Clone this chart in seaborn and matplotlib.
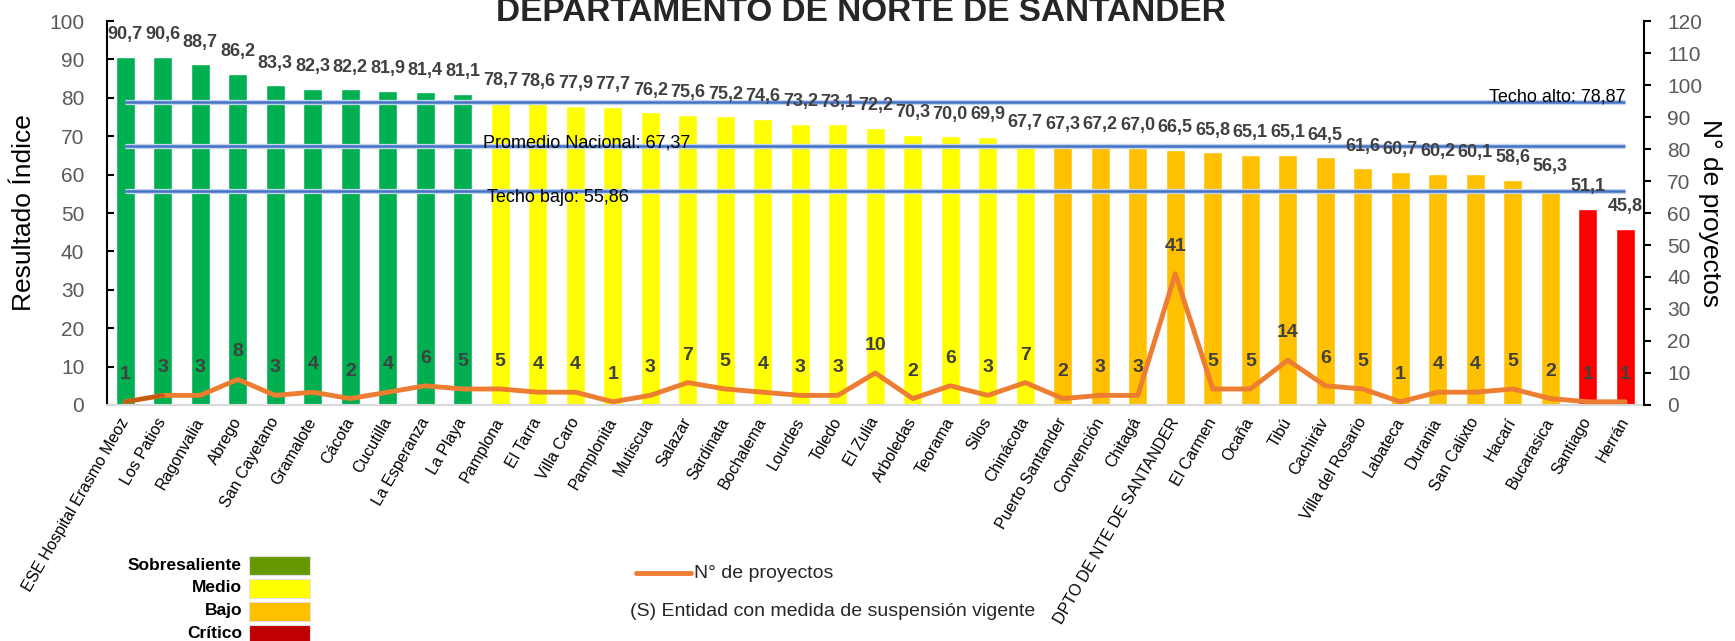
import matplotlib
matplotlib.use('Agg')
import matplotlib.pyplot as plt
import matplotlib.patheffects as pe
from matplotlib.patches import Rectangle
from matplotlib.lines import Line2D
import numpy as np
import seaborn as sns

municipios = ['ESE Hospital Erasmo Meoz', 'Los Patios', 'Ragonvalia', 'Abrego', 'San Cayetano',
              'Gramalote', 'Cácota', 'Cucutilla', 'La Esperanza', 'La Playa', 'Pamplona',
              'El Tarra', 'Villa Caro', 'Pamplonita', 'Mutiscua', 'Salazar', 'Sardinata',
              'Bochalema', 'Lourdes', 'Toledo', 'El Zulia', 'Arboledas', 'Teorama', 'Silos',
              'Chinácota', 'Puerto Santander', 'Convención', 'Chitagá',
              'DPTO DE NTE DE SANTANDER', 'El Carmen', 'Ocaña', 'Tibú', 'Cachiráv',
              'Villa del Rosario', 'Labateca', 'Durania', 'San Calixto', 'Hacarí',
              'Bucarasica', 'Santiago', 'Herrán']
indice = [90.7, 90.6, 88.7, 86.2, 83.3, 82.3, 82.2, 81.9, 81.4, 81.1, 78.7, 78.6, 77.9, 77.7,
          76.2, 75.6, 75.2, 74.6, 73.2, 73.1, 72.2, 70.3, 70.0, 69.9, 67.7, 67.3, 67.2, 67.0,
          66.5, 65.8, 65.1, 65.1, 64.5, 61.6, 60.7, 60.2, 60.1, 58.6, 56.3, 51.1, 45.8]
proyectos = [1, 3, 3, 8, 3, 4, 2, 4, 6, 5, 5, 4, 4, 1, 3, 7, 5, 4, 3, 3, 10, 2, 6, 3, 7, 2, 3,
             3, 41, 5, 5, 14, 6, 5, 1, 4, 4, 5, 2, 1, 1]

techo_alto = 78.87
promedio = 67.37
techo_bajo = 55.86

niveles = ['Sobresaliente', 'Medio', 'Bajo', 'Crítico']
color_barra = {'Sobresaliente': '#00B050', 'Medio': '#FFFF00', 'Bajo': '#FFC000', 'Crítico': '#FF0000'}
color_leyenda = {'Sobresaliente': '#669900', 'Medio': '#FFFF00', 'Bajo': '#FFC000', 'Crítico': '#C00000'}


def nivel(v):
    if v > techo_alto:
        return 'Sobresaliente'
    if v > promedio:
        return 'Medio'
    if v > techo_bajo:
        return 'Bajo'
    return 'Crítico'


def coma(v, dec=1):
    return f'{v:.{dec}f}'.replace('.', ',')


sns.set_style('white')
plt.rcParams['font.family'] = ['Liberation Sans', 'DejaVu Sans']

n = len(municipios)
colores = [color_barra[nivel(v)] for v in indice]

fig = plt.figure(figsize=(17.35, 6.41), dpi=100)
ax = fig.add_axes([0.0614, 0.3682, 0.8862, 0.599])

sns.barplot(x=municipios, y=indice, hue=municipios, palette=colores, legend=False,
            width=0.5, saturation=1, ax=ax)

# data labels on bars
for i, v in enumerate(indice):
    ax.annotate(coma(v), (i, v), xytext=(0, 12.7), textcoords='offset points',
                ha='center', va='baseline', fontsize=13, fontweight='bold',
                color='#404040', zorder=6)

# reference lines
halo = [pe.Stroke(linewidth=3.8, foreground='#C5D4EE'), pe.Normal()]
for val in [techo_alto, promedio, techo_bajo]:
    ax.hlines(val, 0, n - 1, color='#4472C4', lw=1.8, path_effects=halo, zorder=3)

ax.text(n - 1, techo_alto + 0.3, 'Techo alto: ' + coma(techo_alto, 2), ha='right',
        va='baseline', fontsize=13, color='black', zorder=5)
ax.text(9.55, promedio - 0.3, 'Promedio Nacional: ' + coma(promedio, 2), ha='left',
        va='baseline', fontsize=13, color='black', zorder=5)
ax.text(9.65, techo_bajo + 0.3, 'Techo bajo: ' + coma(techo_bajo, 2), ha='left',
        va='top', fontsize=13, color='black', zorder=5)

ax.set_xlim(-0.5, n - 0.5)
ax.set_ylim(0, 100)
ax.set_yticks(range(0, 101, 10))
ax.set_xlabel('')
ax.set_ylabel('Resultado Índice', fontsize=19, color='black', va='center')
ax.yaxis.set_label_coords(-0.0537, 0.5)
ax.tick_params(axis='y', direction='in', length=5, width=1.5, color='black',
               labelsize=15, labelcolor='#595959', pad=16, left=True)
ax.tick_params(axis='x', length=0, pad=10)
plt.setp(ax.get_xticklabels(), rotation=60, ha='right', va='center',
         rotation_mode='anchor', fontsize=11.5, color='black')
for s in ['top', 'right']:
    ax.spines[s].set_visible(False)
ax.spines['left'].set_color('black')
ax.spines['left'].set_linewidth(1.5)
ax.spines['bottom'].set_color('#D9D9D9')
ax.spines['bottom'].set_linewidth(1.5)

# projects line on secondary axis
ax2 = ax.twinx()
pos = np.arange(n)
sns.lineplot(x=pos, y=proyectos, ax=ax2, color='#ED7D31', lw=3.5, sort=False)
ax2.plot(pos[:2], proyectos[:2], color='#C55A11', lw=3)
for line in ax2.lines:
    line.set_solid_capstyle('round')
    line.set_solid_joinstyle('round')
for i, p in enumerate(proyectos):
    ax2.annotate(str(p), (i, p), xytext=(0, 16.5), textcoords='offset points',
                 ha='center', va='baseline', fontsize=14, fontweight='bold',
                 color='#404040')
ax2.set_ylim(0, 120)
ax2.set_yticks(range(0, 121, 10))
ax2.set_xlim(-0.5, n - 0.5)
ax2.set_ylabel('N° de proyectos', fontsize=19, color='black', rotation=270, va='center')
ax2.yaxis.set_label_coords(1.043, 0.5)
ax2.tick_params(axis='y', direction='out', length=5, width=1.5, color='black',
                labelsize=15, labelcolor='#595959', pad=11.5, right=True)
for s in ['top', 'left', 'bottom']:
    ax2.spines[s].set_visible(False)
ax2.spines['right'].set_color('black')
ax2.spines['right'].set_linewidth(1.5)

# title (cut at the top, like the reference)
fig.text(0.4963, 1 - 20.7 / 641, 'DEPARTAMENTO DE NORTE DE SANTANDER', ha='center',
         va='baseline', fontsize=24, fontweight='bold')

# level legend
W, H = 1735, 641
for nv, yc in zip(niveles, [565, 588, 611, 634]):
    fig.add_artist(Rectangle((249 / W, 1 - (yc + 9.5) / H), 61 / W, 19 / H,
                             transform=fig.transFigure, facecolor=color_leyenda[nv],
                             edgecolor='#E0E0E0', lw=0.8))
    fig.text(242 / W, 1 - yc / H, nv, ha='right', va='center', fontsize=12.5,
             fontweight='bold', color='black')

fig.add_artist(Line2D([636 / W, 691 / W], [1 - 573 / H, 1 - 573 / H], color='#ED7D31',
                      lw=3.5, solid_capstyle='round', transform=fig.transFigure))
fig.text(694 / W, 1 - 573 / H, 'N° de proyectos', ha='left', va='center', fontsize=14)
fig.text(630 / W, 1 - 611 / H, '(S) Entidad con medida de suspensión vigente', ha='left',
         va='center', fontsize=14)

fig.savefig('out.png', dpi=100)
